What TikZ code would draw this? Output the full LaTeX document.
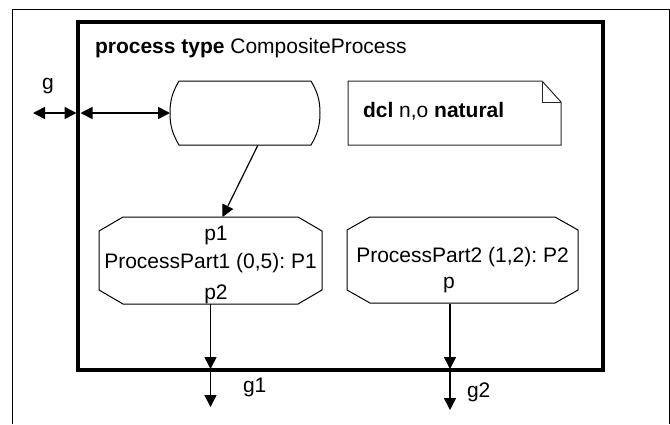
\documentclass[tikz,border=0pt]{standalone}
\usepackage{fontspec}
\setmainfont{Liberation Sans}
\usetikzlibrary{arrows.meta,calc}
\frenchspacing

% outline of a part box: a rectangle node with chamfered corners
\newcommand\partoutline[3]{%
  \draw[partline] ($(#1.north west)+(#2,0)$) -- ($(#1.north east)+(-#2,0)$)
    -- ($(#1.north east)+(0,#3)$) -- ($(#1.south east)+(0,-#3)$)
    -- ($(#1.south east)+(-#2,0)$) -- ($(#1.south west)+(#2,0)$)
    -- ($(#1.south west)+(0,-#3)$) -- ($(#1.north west)+(0,#3)$) -- cycle;}

\begin{document}
\begin{tikzpicture}[x=1pt,y=-1pt,
  every node/.style={outer sep=0pt},
  txt/.style={font=\fontsize{21}{25}\selectfont, inner sep=0pt},
  conn/.style={line width=1.5pt, -{Triangle[length=12pt,width=12pt]}},
  bidir/.style={line width=1.5pt, {Triangle[length=12pt,width=12pt]}-{Triangle[length=12pt,width=12pt]}},
  partline/.style={draw=black, line width=1pt},
  holder/.style={inner sep=0pt}]

\useasboundingbox (0,0) rectangle (670,424);

% open page frame
\draw[line width=1pt] (12,424) -- (12,9) -- (669,9) -- (669,424);

% process type frame
\node[draw, line width=3.2pt, minimum width=525pt, minimum height=348pt, inner sep=0pt]
  (frame) at (340.5,196) {};
\node[txt, anchor=base west] (title) at (95,53) {\textbf{process type} CompositeProcess};

% start symbol
\node[holder, minimum width=150pt, minimum height=64pt] (start) at (245,113) {};
\draw[partline] ($(start.north west)+(9,0)$) -- ($(start.north east)+(-9,0)$)
  to[out=-60,in=90] (start.east) to[out=-90,in=60] ($(start.south east)+(-9,0)$)
  -- ($(start.south west)+(9,0)$) to[out=120,in=-90] (start.west)
  to[out=90,in=-120] cycle;

% text symbol with folded corner
\node[holder, minimum width=213pt, minimum height=64pt] (note) at (454.5,113) {};
\draw[draw=black!85, line width=1pt] (note.south west) -- (note.north west)
  -- ($(note.north east)+(-19,0)$) -- ($(note.north east)+(0,21)$)
  -- (note.south east) -- cycle;
\draw[draw=black!85, line width=1pt] ($(note.north east)+(-19,0)$)
  -- ($(note.north east)+(-19,21)$) -- ($(note.north east)+(0,21)$);
\node[txt, anchor=base west] (notetext) at (363,117) {\textbf{dcl} n,o \textbf{natural}};

% process instance sets
\node[holder, minimum width=223pt, minimum height=87pt] (oct1) at (210.5,260.5) {};
\partoutline{oct1}{24}{14}
\node[txt, anchor=base] (p1) at (216,240) {p1};
\node[txt, anchor=base] (part1) at (210.5,268) {ProcessPart1 (0,5): P1};
\node[txt, anchor=base] (p2) at (216,299) {p2};

\node[holder, minimum width=231pt, minimum height=86pt] (oct2) at (462.5,260) {};
\partoutline{oct2}{23}{13}
\node[txt, anchor=base] (part2) at (462.5,262) {ProcessPart2 (1,2): P2};
\node[txt, anchor=base] (pp) at (449,288) {p};

% gate g
\coordinate (gw) at (frame.west |- start.west);
\coordinate (gout) at (33,113);
\node[txt, anchor=base west] (glab) at (42,89) {g};
\draw[bidir, shorten >=1.5pt] (gout) -- (gw);
\draw[bidir, shorten <=2.5pt] (gw) -- (start.west);

% connection from start
\draw[conn, line width=1.2pt] ([xshift=13pt]start.south) -- ([xshift=12pt]oct1.north);

% gate g1
\coordinate (f1) at (oct1.south |- frame.south);
\coordinate (g1end) at (210.5,407);
\draw[conn, shorten >=1pt] (oct1.south) -- (f1);
\draw[conn] (f1) -- (g1end);
\node[txt, anchor=base west] (g1lab) at (243,392) {g1};

% gate g2
\coordinate (p2top) at (450,304);
\coordinate (f2) at (p2top |- frame.south);
\coordinate (g2end) at (450,410);
\draw[conn, shorten >=1pt] (p2top) -- (f2);
\draw[conn] (f2) -- (g2end);
\node[txt, anchor=base west] (g2lab) at (467,397) {g2};
\end{tikzpicture}
\end{document}
